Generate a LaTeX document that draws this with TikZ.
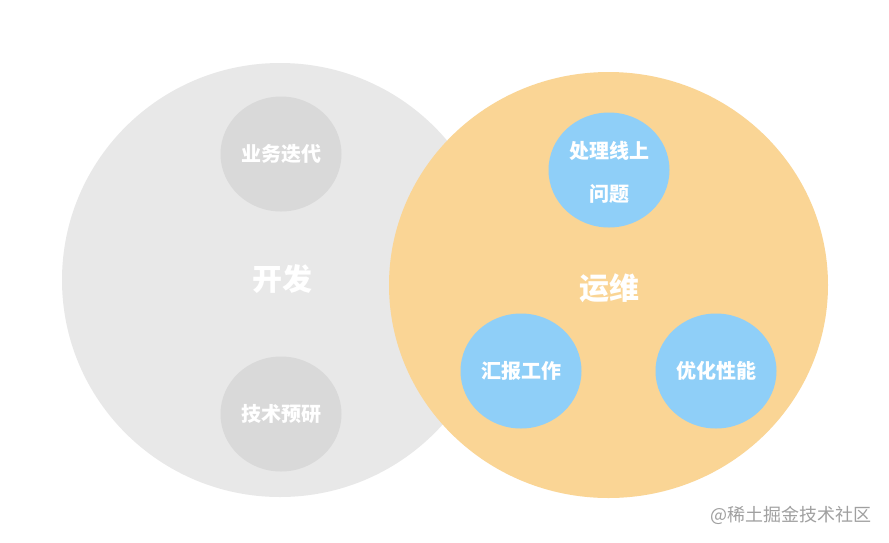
\documentclass[tikz,border=0pt]{standalone}
\usepackage{fontspec}
\newfontfamily\cjk{Noto Sans CJK SC}
\usetikzlibrary{shapes.geometric}
\definecolor{biggray}{HTML}{E8E8E8}
\definecolor{smallgray}{HTML}{D9D9D9}
\definecolor{orangebg}{HTML}{FAD595}
\definecolor{bluebub}{HTML}{8FCFF8}
\definecolor{wmgray}{HTML}{A0A0A0}
\tikzset{
  bigcirc/.style={ellipse, inner sep=0pt, draw=none, text=white,
    font=\cjk\bfseries\fontsize{30}{36}\selectfont},
  bubble/.style={ellipse, inner sep=0pt, minimum width=121pt, minimum height=115pt,
    draw=none, text=white, align=center,
    font=\cjk\bfseries\fontsize{20}{43}\selectfont},
}
\begin{document}
\begin{tikzpicture}[x=1pt,y=-1pt]
\useasboundingbox (0,0) rectangle (889,542);
\fill[white] (0,0) rectangle (889,542);
% big circles
\node[bigcirc, fill=biggray, minimum width=436pt, minimum height=434pt] (dev) at (280,280) {};
\node[bigcirc, fill=orangebg, minimum width=439pt, minimum height=426pt] (ops) at (608.5,285) {};
\node[bigcirc] (devlabel) at (282,279) {开发};
\node[bigcirc] (opslabel) at (609,288) {运维};
% dev bubbles
\node[bubble, fill=smallgray] (iter) at (281,154) {业务迭代};
\node[bubble, fill=smallgray] (research) at (281,414) {技术预研};
% ops bubbles
\node[bubble, fill=bluebub] (online) at (609,170) {};
\node[bubble, fill=none] (onlinetext) at (609,172) {处理线上\\问题};
\node[bubble, fill=bluebub] (report) at (521,371) {汇报工作};
\node[bubble, fill=bluebub] (perf) at (716,371) {优化性能};
% watermark
\node[text=wmgray, font=\cjk\fontsize{18}{20}\selectfont, inner sep=0pt] (wm) at (791,515) {@稀土掘金技术社区};
\end{tikzpicture}
\end{document}
